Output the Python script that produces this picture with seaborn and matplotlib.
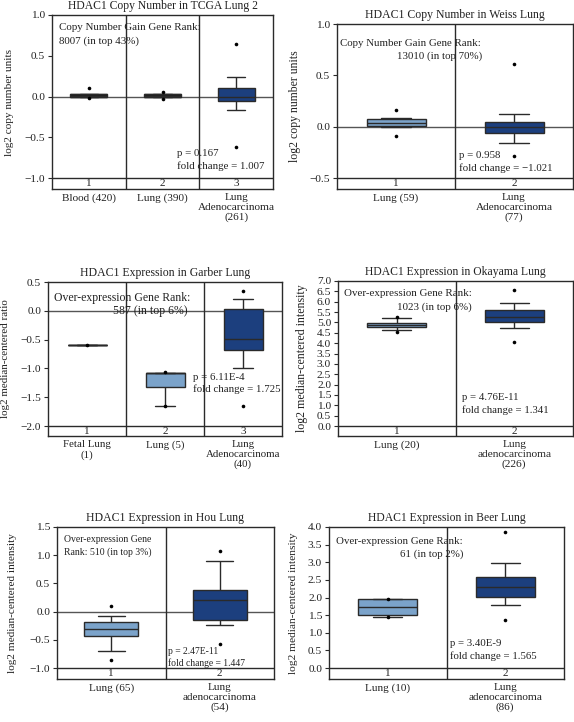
import matplotlib
matplotlib.use("Agg")
import matplotlib.pyplot as plt
from matplotlib.font_manager import FontProperties
import numpy as np
import pandas as pd
import seaborn as sns

# ---------------- data ----------------
titles = [
    "HDAC1 Copy Number in TCGA Lung 2",
    "HDAC1 Copy Number in Weiss Lung",
    "HDAC1 Expression in Garber Lung",
    "HDAC1 Expression in Okayama Lung",
    "HDAC1 Expression in Hou Lung",
    "HDAC1 Expression in Beer Lung",
]
ylabels = [
    "log2 copy number units",
    "log2 copy number units",
    "log2 median-centered ratio",
    "log2 median-centered intensity",
    "log2 median-centered intensity",
    "log2 median-centered intensity",
]

groups_tcga = ["Blood (420)", "Lung (390)", "Lung\nAdenocarcinoma\n(261)"]
groups_weiss = ["Lung (59)", "Lung\nAdenocarcinoma\n(77)"]
groups_garber = ["Fetal Lung\n(1)", "Lung (5)", "Lung\nAdenocarcinoma\n(40)"]
groups_okayama = ["Lung (20)", "Lung\nadenocarcinoma\n(226)"]
groups_hou = ["Lung (65)", "Lung\nadenocarcinoma\n(54)"]
groups_beer = ["Lung (10)", "Lung\nadenocarcinoma\n(86)"]

# five-number summaries per group: whisker low, Q1, median, Q3, whisker high
box_tcga = [[0.0, 0.0, 0.01, 0.025, 0.025], [0.0, 0.0, 0.01, 0.025, 0.025],
            [-0.16, -0.06, 0.0, 0.10, 0.24]]
box_weiss = [[0.0, 0.005, 0.035, 0.072, 0.08], [-0.155, -0.063, 0.0, 0.048, 0.125]]
box_garber = [[-0.6, -0.6, -0.6, -0.6, -0.6], [-1.655, -1.325, -1.08, -1.075, -1.075],
              [-0.99, -0.683, -0.482, 0.027, 0.21]]
box_okayama = [[4.65, 4.78, 4.87, 4.98, 5.22], [4.75, 5.0, 5.26, 5.62, 5.94]]
box_hou = [[-0.694, -0.441, -0.306, -0.176, -0.076], [-0.235, -0.147, 0.2, 0.376, 0.9]]
box_beer = [[1.46, 1.495, 1.73, 1.948, 1.95], [1.788, 2.005, 2.306, 2.588, 2.99]]

# individual extreme points (max / min)
dots_tcga = [[0.11, -0.02], [0.05, -0.03], [0.65, -0.62]]
dots_weiss = [[0.16, -0.09], [0.61, -0.285]]
dots_garber = [[-0.6], [-1.07, -1.655], [0.34, -1.65]]
dots_okayama = [[5.25, 4.52], [6.55, 4.06]]
dots_hou = [[0.1, -0.853], [1.082, -0.576]]
dots_beer = [[1.95, 1.455], [3.86, 1.365]]

yticks_tcga = [-1.0, -0.5, 0.0, 0.5, 1.0]
yticks_weiss = [-0.5, 0.0, 0.5, 1.0]
yticks_garber = [-2.0, -1.5, -1.0, -0.5, 0.0, 0.5]
yticks_okayama = [0.0, 0.5, 1.0, 1.5, 2.0, 2.5, 3.0, 3.5, 4.0, 4.5, 5.0, 5.5, 6.0, 6.5, 7.0]
yticks_hou = [-1.0, -0.5, 0.0, 0.5, 1.0, 1.5]
yticks_beer = [0.0, 0.5, 1.0, 1.5, 2.0, 2.5, 3.0, 3.5, 4.0]

rank_tcga = ["Copy Number Gain Gene Rank:", "8007 (in top 43%)"]
rank_weiss = ["Copy Number Gain Gene Rank:", "13010 (in top 70%)"]
rank_garber = ["Over-expression Gene Rank:", "587 (in top 6%)"]
rank_okayama = ["Over-expression Gene Rank:", "1023 (in top 6%)"]
rank_hou = ["Over-expression Gene", "Rank: 510 (in top 3%)"]
rank_beer = ["Over-expression Gene Rank:", "61 (in top 2%)"]

stats_tcga = ["p = 0.167", "fold change = 1.007"]
stats_weiss = ["p = 0.958", "fold change = \u22121.021"]
stats_garber = ["p = 6.11E-4", "fold change = 1.725"]
stats_okayama = ["p = 4.76E-11", "fold change = 1.341"]
stats_hou = ["p = 2.47E-11", "fold change = 1.447"]
stats_beer = ["p = 3.40E-9", "fold change = 1.565"]

# ---------------- style ----------------
NAVY = "#1c3f7e"
LIGHT = "#7ba3ca"
DARK = "#1a1a1a"
LINE = "#2a2a2a"
TXT = "#222222"
colors_tcga = [DARK, DARK, NAVY]
colors_weiss = [LIGHT, NAVY]
colors_garber = [DARK, LIGHT, NAVY]
colors_okayama = [LIGHT, NAVY]
colors_hou = [LIGHT, NAVY]
colors_beer = [LIGHT, NAVY]

FAMILY = ["Liberation Serif", "DejaVu Serif"]
sns.set_theme(style="white")
plt.rcParams["font.family"] = FAMILY
plt.rcParams["axes.unicode_minus"] = True

W, H = 574, 722
fig = plt.figure(figsize=(W / 100, H / 100), dpi=100)
fig.patch.set_facecolor("white")
renderer = fig.canvas.get_renderer()

TICK_FS = 8.2


def fit_fs(s, target_px, base=10.0):
    """font size so that string s is about target_px pixels wide"""
    fp = FontProperties(family=FAMILY, size=base)
    w, _, _ = renderer.get_text_width_height_descent(s, fp, ismath=False)
    return base * target_px / w


def px(x, y):
    return x / W, 1 - y / H


def draw(layout, widths, groups, box, dots, colors, yticks, title, ylabel,
         rank, stats):
    (l, t, r, db, b, ylab_x, rank_pos, stat_pos, rank_align) = layout
    (w_title, w_ylab, w_rank, w_stat, w_group, group_key) = widths
    title_fs = fit_fs(title, w_title)
    ylab_fs = fit_fs(ylabel, w_ylab)
    ann_fs = fit_fs(rank[0], w_rank)
    stat_fs = fit_fs(stats[1], w_stat)
    group_fs = fit_fs(group_key, w_group)

    ax = fig.add_axes([l / W, 1 - b / H, (r - l) / W, (b - t) / H])
    n = len(groups)
    keys = [str(i + 1) for i in range(n)]
    df = pd.DataFrame([(k, v) for k, vals in zip(keys, box) for v in vals],
                      columns=["g", "v"])
    ddf = pd.DataFrame([(k, v) for k, vals in zip(keys, dots) for v in vals],
                       columns=["g", "v"])
    sns.boxplot(data=df, x="g", y="v", hue="g", order=keys, hue_order=keys,
                palette=colors, whis=(0, 100), width=0.5, showfliers=False,
                linecolor=LINE, linewidth=1.0, saturation=1, legend=False,
                ax=ax, zorder=3)
    sns.stripplot(data=ddf, x="g", y="v", order=keys, jitter=False,
                  color="black", size=2.6, ax=ax, zorder=6)
    # widen whisker caps to full box width
    for ln in ax.lines:
        xd, yd = np.asarray(ln.get_xdata(), float), np.asarray(ln.get_ydata(), float)
        if len(xd) == 2 and yd[0] == yd[1] and abs(xd[1] - xd[0]) < 0.2:
            c = xd.mean()
            ln.set_xdata([c - 0.25, c + 0.25])

    ymin, ymax = yticks[0], yticks[-1]
    ylow = ymin - (b - db) * (ymax - ymin) / (db - t)
    ax.set_xlim(-0.5, n - 0.5)
    ax.set_ylim(ylow, ymax)
    if ymin < 0 < ymax:
        ax.axhline(0, color="#555555", lw=1.0, zorder=1)
    ax.axhline(ymin, color=LINE, lw=1.0, zorder=2)
    for i in range(n - 1):
        ax.axvline(i + 0.5, color=LINE, lw=1.0, zorder=2)
    for i in range(n):
        ax.text(i, (ymin + ylow) / 2, str(i + 1), ha="center", va="center",
                fontsize=8.0, color=TXT)

    ax.set_yticks(yticks)
    ax.set_yticklabels([f"{v:.1f}".replace("-", "\u2212") for v in yticks],
                       fontsize=TICK_FS, color=TXT)
    ax.set_xticks(range(n))
    ax.set_xticklabels(groups, fontsize=group_fs, linespacing=1.12, color=TXT)
    ax.tick_params(axis="x", length=0, pad=3)
    ax.tick_params(axis="y", left=True, length=3, width=0.8, color=LINE,
                   pad=2, direction="out")
    ax.set_xlabel("")
    ax.set_ylabel("")
    for s in ax.spines.values():
        s.set_color(LINE)
        s.set_linewidth(1.0)

    ax.set_title(title, fontsize=title_fs, pad=4, color=TXT)
    fig.text(*px(ylab_x, (t + b) / 2), ylabel, rotation=90, ha="center",
             va="center", fontsize=ylab_fs, color=TXT)

    # rank annotation
    (rx1, ry1), (rx2, ry2) = rank_pos
    fig.text(*px(rx1, ry1), rank[0], ha=rank_align, va="center",
             fontsize=ann_fs, color=TXT, zorder=10)
    fig.text(*px(rx2, ry2), rank[1], ha=rank_align, va="center",
             fontsize=ann_fs, color=TXT, zorder=10)
    sx, sy1, sy2 = stat_pos
    fig.text(*px(sx, sy1), stats[0], ha="left", va="center", fontsize=stat_fs,
             color=TXT, zorder=10)
    fig.text(*px(sx, sy2), stats[1], ha="left", va="center", fontsize=stat_fs,
             color=TXT, zorder=10)
    return ax


# layout: left, top, right, data-bottom, bottom, ylabel x, rank text pos, stats pos, align
lay1 = (52, 15, 273, 178, 189, 10, ((59, 28), (59, 41)), (177, 154, 166), "left")
lay2 = (337, 24, 573, 178, 189, 295, ((340, 43), (397, 56)), (459, 156, 168), "left")
lay3 = (48, 282, 282, 426, 436, 6, ((54, 298), (113, 311)), (193, 377, 389), "left")
lay4 = (338, 281, 573, 426, 436, 302, ((344, 293), (397, 307)), (462, 397, 410), "left")
lay5 = (57, 527, 274, 668, 679, 13, ((108, 540), (108, 552)), (168, 652, 663), "center")
lay6 = (329, 527, 564, 668, 679, 294, ((336, 542), (400, 554)), (450, 644, 656), "left")

# target text widths in pixels: title, y label, rank line 1, stats line 2, group word
tw1 = (190, 107, 143, 87, 77, "Adenocarcinoma")
tw2 = (180, 111, 141, 93, 77, "Adenocarcinoma")
tw3 = (170, 118, 137, 87, 74, "Adenocarcinoma")
tw4 = (180, 148, 128, 86, 75, "adenocarcinoma")
tw5 = (158, 140, 87, 77, 74, "adenocarcinoma")
tw6 = (158, 142, 127, 86, 74, "adenocarcinoma")

draw(lay1, tw1, groups_tcga, box_tcga, dots_tcga, colors_tcga, yticks_tcga,
     titles[0], ylabels[0], rank_tcga, stats_tcga)
draw(lay2, tw2, groups_weiss, box_weiss, dots_weiss, colors_weiss, yticks_weiss,
     titles[1], ylabels[1], rank_weiss, stats_weiss)
draw(lay3, tw3, groups_garber, box_garber, dots_garber, colors_garber, yticks_garber,
     titles[2], ylabels[2], rank_garber, stats_garber)
draw(lay4, tw4, groups_okayama, box_okayama, dots_okayama, colors_okayama, yticks_okayama,
     titles[3], ylabels[3], rank_okayama, stats_okayama)
draw(lay5, tw5, groups_hou, box_hou, dots_hou, colors_hou, yticks_hou,
     titles[4], ylabels[4], rank_hou, stats_hou)
draw(lay6, tw6, groups_beer, box_beer, dots_beer, colors_beer, yticks_beer,
     titles[5], ylabels[5], rank_beer, stats_beer)

fig.savefig("out.png", dpi=100, facecolor="white")
